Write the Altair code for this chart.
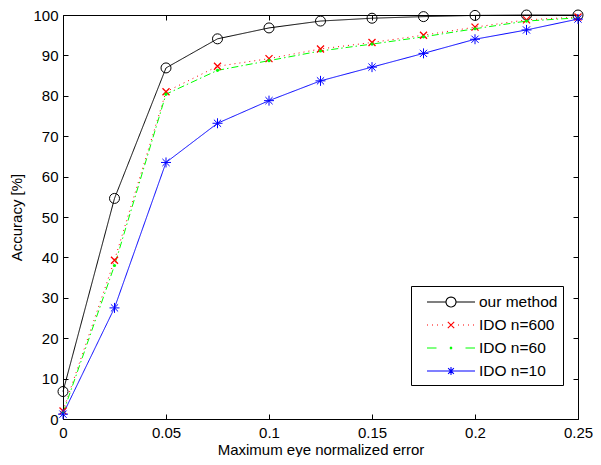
import math
import altair as alt
import pandas as pd

# ---- data ----
x_vals = [0, 0.025, 0.05, 0.075, 0.1, 0.125, 0.15, 0.175, 0.2, 0.225, 0.25]
our_method = [6.8, 54.6, 86.9, 94.1, 96.8, 98.5, 99.2, 99.6, 99.9, 100, 100]
ido_600 = [2.0, 39.3, 81.0, 87.3, 89.2, 91.6, 93.2, 95.0, 97.0, 98.8, 99.5]
ido_60 = [1.5, 38.0, 80.4, 86.3, 88.7, 91.1, 92.8, 94.6, 96.6, 98.5, 99.3]
ido_10 = [1.2, 27.5, 63.5, 73.2, 78.8, 83.7, 87.1, 90.5, 94.0, 96.3, 99.0]
series_names = ["our method", "IDO n=600", "IDO n=60", "IDO n=10"]
x_ticks = [0, 0.05, 0.1, 0.15, 0.2, 0.25]
y_ticks = list(range(0, 101, 10))

rows = []
for name, vals in zip(series_names, [our_method, ido_600, ido_60, ido_10]):
    for xv, yv in zip(x_vals, vals):
        rows.append({"x": xv, "y": yv, "series": name})
df = pd.DataFrame(rows)

FONT = "Liberation Sans"
colors = ["#000000", "#ff0000", "#00ff00", "#0000ff"]
dashes = [[1, 0], [1, 4], [7, 3, 1.5, 3], [1, 0]]

color_scale = alt.Scale(domain=series_names, range=colors)
x_scale = alt.Scale(domain=[0, 0.25], nice=False, zero=False)
y_scale = alt.Scale(domain=[0, 100], nice=False)

common = dict(grid=False, domain=False, ticks=True, tickSize=5, tickColor="black",
              tickWidth=1, offset=-5, labelFont=FONT, labelFontSize=15,
              labelColor="black", labelOverlap=False, labelFlush=False)

bottom_axis = alt.Axis(orient="bottom", values=x_ticks, format="~g", labelPadding=6,
                       title="Maximum eye normalized error", titleFont=FONT,
                       titleFontSize=15, titleFontWeight="normal", titleColor="black",
                       titlePadding=2, **common)
left_axis = alt.Axis(orient="left", values=y_ticks, format="d", labelPadding=5,
                     title="Accuracy [%]", titleFont=FONT, titleFontSize=15,
                     titleFontWeight="normal", titleColor="black", titlePadding=8,
                     **common)
top_axis = alt.Axis(orient="top", values=x_ticks, labels=False, title=None, **common)
right_axis = alt.Axis(orient="right", values=y_ticks, labels=False, title=None, **common)


# ---- legend symbol shapes (line sample + marker), in units of symbol radius ----
def seg(a, b):
    return f"M{a:.3f},0L{b:.3f},0"


def ring(cx, rad, n=24):
    pts = [(cx + rad * math.cos(2 * math.pi * k / n), rad * math.sin(2 * math.pi * k / n))
           for k in range(n)]
    return "M" + "L".join(f"{px:.3f},{py:.3f}" for px, py in pts) + "Z"


def xmark(cx, h):
    return f"M{cx-h:.3f},{-h:.3f}L{cx+h:.3f},{h:.3f}M{cx-h:.3f},{h:.3f}L{cx+h:.3f},{-h:.3f}"


def star(cx, h):
    d = h * 0.72
    return (f"M{cx-h:.3f},0L{cx+h:.3f},0M{cx:.3f},{-h:.3f}L{cx:.3f},{h:.3f}"
            + f"M{cx-d:.3f},{-d:.3f}L{cx+d:.3f},{d:.3f}M{cx-d:.3f},{d:.3f}L{cx+d:.3f},{-d:.3f}")


L0, L1, MX = 0.0, 4.8, 2.4
p_our = seg(L0, MX - 0.5) + seg(MX + 0.5, L1) + ring(MX, 0.5)
p_600 = "".join(seg(s, s + 0.1) for s in [0.0, 0.5, 1.0, 1.5, 3.1, 3.6, 4.1, 4.6]) + xmark(MX, 0.32)
p_60 = seg(L0, 0.95) + seg(3.85, L1) + ring(MX, 0.08, 8)
p_10 = seg(L0, L1) + star(MX, 0.4)
legend_paths = [p_our, p_600, p_60, p_10]

legend_def = alt.Legend(title=None, orient="none", legendX=348, legendY=271,
                        symbolSize=400, symbolStrokeWidth=1.1, symbolOpacity=1,
                        labelOffset=41, labelFont=FONT, labelFontSize=15.5,
                        labelColor="black", padding=5, rowPadding=3,
                        strokeColor="black", fillColor="white", cornerRadius=0)

X_none = alt.X("x:Q", scale=x_scale, axis=None)
Y_none = alt.Y("y:Q", scale=y_scale, axis=None)

layers = []
# one line layer per series (fixed colour / dash), first one carries the main axes
for i, (name, col, dash) in enumerate(zip(series_names, colors, dashes)):
    xe = alt.X("x:Q", scale=x_scale, axis=bottom_axis) if i == 0 else X_none
    ye = alt.Y("y:Q", scale=y_scale, axis=left_axis) if i == 0 else Y_none
    layers.append(
        alt.Chart(df).transform_filter(alt.datum.series == name)
        .mark_line(strokeWidth=1, color=col, strokeDash=dash)
        .encode(x=xe, y=ye)
    )

m_our = alt.Chart(df).transform_filter(alt.datum.series == "our method").mark_point(
    shape="circle", size=100, filled=False, color="#000000", strokeWidth=1, opacity=1
).encode(x=alt.X("x:Q", scale=x_scale, axis=top_axis),
         y=alt.Y("y:Q", scale=y_scale, axis=right_axis))

m_600 = alt.Chart(df).transform_filter(alt.datum.series == "IDO n=600").mark_point(
    shape="M-1,-1L1,1M-1,1L1,-1", size=49, filled=False, color="#ff0000",
    strokeWidth=1.3, opacity=1
).encode(x=X_none, y=Y_none)

m_60 = alt.Chart(df).transform_filter(alt.datum.series == "IDO n=60").mark_point(
    shape="circle", size=10, filled=True, color="#00ff00", opacity=1
).encode(x=X_none, y=Y_none)

m_10 = alt.Chart(df).transform_filter(alt.datum.series == "IDO n=10").mark_point(
    shape="M-1,0L1,0M0,-1L0,1M-0.72,-0.72L0.72,0.72M-0.72,0.72L0.72,-0.72",
    size=100, filled=False, color="#0000ff", strokeWidth=1, opacity=1
).encode(x=X_none, y=Y_none)

# invisible layer (zero-size points) whose only job is to produce the legend
leg = alt.Chart(df).mark_point(filled=False, size=0, strokeWidth=1).encode(
    x=X_none, y=Y_none,
    color=alt.Color("series:N", scale=color_scale, legend=legend_def),
    shape=alt.Shape("series:N", scale=alt.Scale(domain=series_names, range=legend_paths),
                    legend=legend_def),
)

chart = alt.layer(*layers, m_our, m_600, m_60, m_10, leg).resolve_axis(
    x="independent", y="independent"
).properties(
    width=515, height=404,
    autosize=alt.AutoSizeParams(type="none"),
    padding={"left": 55, "top": 7, "right": 15, "bottom": 38},
    background="white",
).configure_view(stroke="black", strokeWidth=1)

chart.save("out.html", embed_options={"renderer": "svg", "actions": False})
